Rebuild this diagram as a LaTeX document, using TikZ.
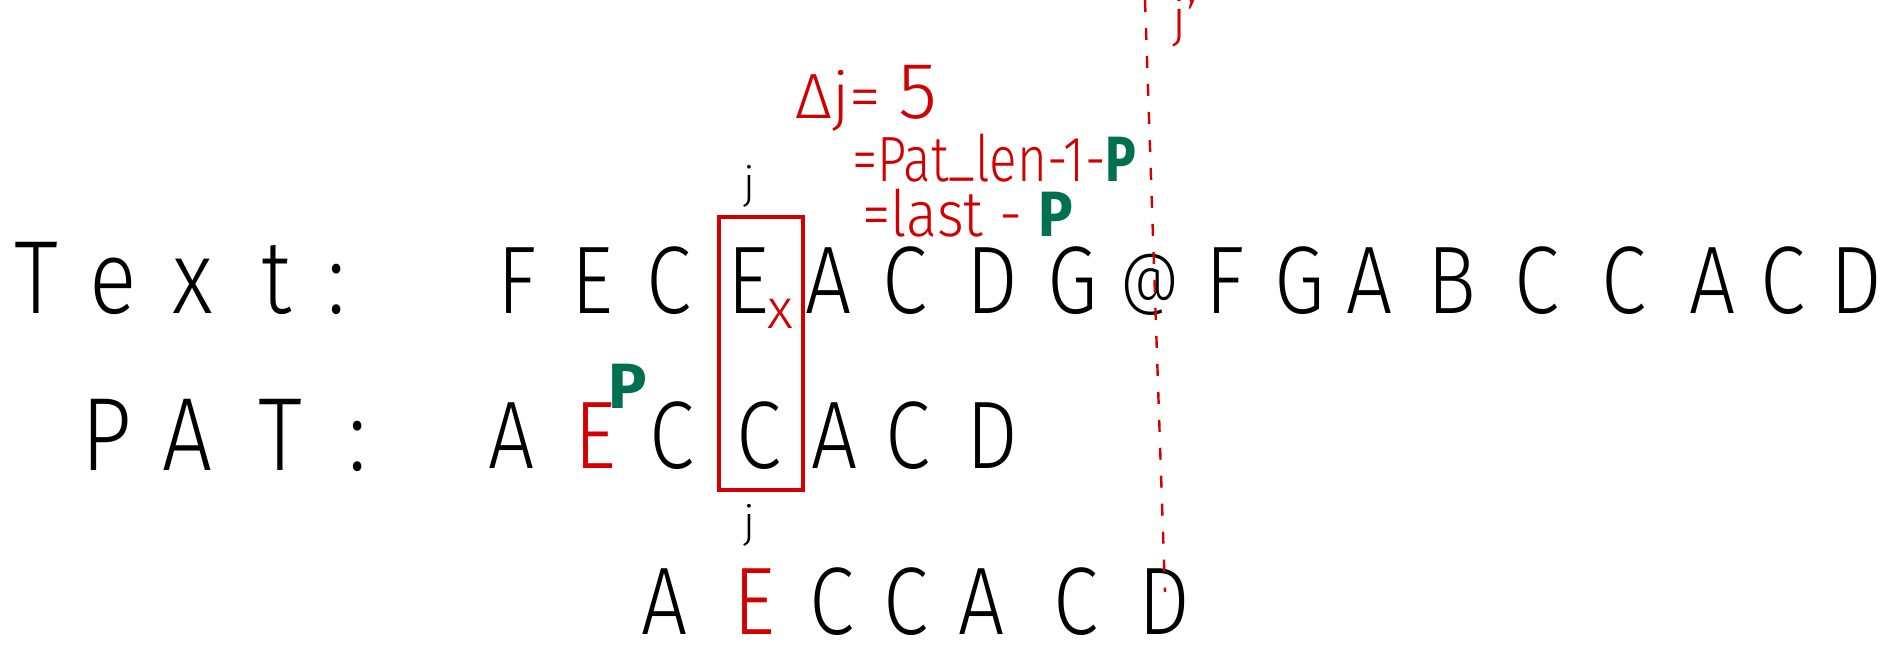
\documentclass[tikz,border=0pt]{standalone}
\usepackage{fontspec}
\usepackage{graphicx}
\setmainfont{Fira Sans Light}
\newfontfamily\boldpen{Fira Sans}
\newcommand\narw[1]{\scalebox{0.85}[1]{#1}}
\definecolor{pen}{RGB}{210,0,0}
\definecolor{ink}{RGB}{0,112,80}
\begin{document}
\begin{tikzpicture}[x=0.5pt,y=-0.5pt,
  lbl/.style={font=\fontsize{52}{56}\selectfont, inner sep=0pt, anchor=base},
  chr/.style={font=\fontsize{48}{52}\selectfont, inner sep=0pt, anchor=base},
  note/.style={font=\fontsize{32}{36}\selectfont, text=pen, inner sep=0pt, anchor=base west},
  idx/.style={font=\fontsize{22}{24}\selectfont, inner sep=0pt},
  gp/.style={font=\fontsize{32}{36}\boldpen\bfseries, text=ink},
  frame/.style={draw=pen, line width=2.2pt, minimum width=42pt, minimum height=136.5pt, inner sep=0pt},
  cut/.style={draw=pen, line width=1.2pt, dash pattern=on 6pt off 8pt}]
\useasboundingbox (0,0) rectangle (1888,660);

% labels
\foreach \l/\x [count=\i] in {T/36, e/113, x/193, t/277, :/337}
  \node[lbl] (tl\i) at (\x,313) {\narw{\l}};
\foreach \l/\x [count=\i] in {P/107, A/187, T/280, :/358}
  \node[lbl] (pl\i) at (\x,470) {\narw{\l}};

% text row
\foreach \l/\x [count=\i] in {F/517, E/592, C/669, E/748, A/829, C/905, D/992, G/1073}
  \node[chr] (t\i) at (\x,313) {\narw{\l}};
\node[font=\fontsize{34}{38}\selectfont, inner sep=0pt] (t9) at (1150,285) {\narw{@}};
\foreach \l/\x [count=\i from 10] in {F/1225, G/1300, A/1370, B/1452, C/1537, C/1624, A/1713, C/1783, D/1856}
  \node[chr] (t\i) at (\x,313) {\narw{\l}};

% pattern row
\foreach \l/\x/\c [count=\i] in {A/512/black, E/595/pen, C/672/black, C/759/black, A/835/black, C/908/black, D/992/black}
  \node[chr, text=\c] (p\i) at (\x,468) {\narw{\l}};

% shifted pattern row
\foreach \l/\x/\c [count=\i] in {A/665/black, E/754/pen, C/832/black, C/906/black, A/982/black, C/1076/black, D/1164/black}
  \node[chr, text=\c] (s\i) at (\x,634) {\narw{\l}};

% mismatch box and marks
\node[frame] (box) at (761,353.5) {};
\node[font=\fontsize{28}{30}\selectfont, text=pen, inner sep=0pt] (xmark) at (780,314) {x};
\node[gp, inner sep=0pt] (pp) at (628,386) {P};
\node[idx] (jt) at (749,186) {j};
\node[idx] (jb) at (749,525) {j};

% annotations
\node[note] (dj) at (795,118) {Δj= {\fontsize{40}{44}\selectfont 5}};
\node[note] (f1) at (852,181) {\scalebox{0.8}[1]{=Pat\raisebox{0.12em}{\_}len-1-\textcolor{ink}{\boldpen\bfseries P}}};
\node[note] (f2) at (862,236) {\scalebox{0.9}[1]{=last - \textcolor{ink}{\boldpen\bfseries P}}};

% shift line
\coordinate (ctop) at (1145,0);
\coordinate (cbot) at (1165,592);
\draw[cut] (ctop) -- (cbot);
\node[font=\fontsize{26}{28}\selectfont, text=pen, inner sep=0pt, anchor=base] (jp) at (1185,36) {j'};
\end{tikzpicture}
\end{document}
